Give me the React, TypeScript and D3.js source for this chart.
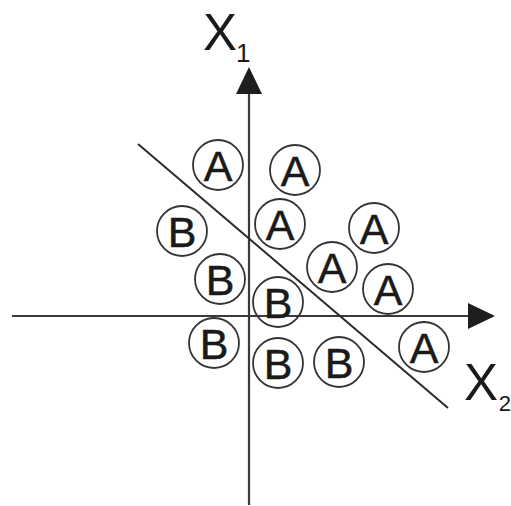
import React from "react";
import * as d3 from "d3";

// Data (abstract units, origin at the axis intersection)
const classALabels = ["A", "A", "A", "A", "A", "A", "A"];
const classAX2 = [-3.1, 4.6, 3.1, 12.5, 8.3, 13.9, 17.5];
const classAX1 = [15.1, 14.6, 9.2, 8.8, 4.9, 2.7, -3.1];
const classBLabels = ["B", "B", "B", "B", "B", "B"];
const classBX2 = [-6.7, -2.9, 2.9, -3.5, 2.9, 9.0];
const classBX1 = [8.5, 3.7, 1.4, -2.7, -4.7, -4.6];
const boundaryX2 = [-11.1, 19.9];
const boundaryX1 = [17.2, -9.2];
const axisX2Range = [-23.7, 24.6];
const axisX1Range = [-18.9, 24.9];
const axisLabels = [
  { main: "X", sub: "1" },
  { main: "X", sub: "2" },
];

const W = 511;
const H = 506;

export default function App() {
  const x = d3.scaleLinear().domain([-10, 10]).range([149, 349]);
  const y = d3.scaleLinear().domain([-10, 10]).range([416, 216]);

  const points = [
    ...classALabels.map((l, i) => ({ l, x2: classAX2[i], x1: classAX1[i] })),
    ...classBLabels.map((l, i) => ({ l, x2: classBX2[i], x1: classBX1[i] })),
  ];

  const line = d3
    .line<[number, number]>()
    .x((d) => x(d[0]))
    .y((d) => y(d[1]));

  const x0 = x(0);
  const y0 = y(0);
  const arrowLen = 27;
  const arrowHalf = 13;
  const r = 25;
  const ink = "#1a1a1a";
  const font = "'Liberation Sans', Arial, Helvetica, sans-serif";

  const vTip = y(axisX1Range[1]);
  const hTip = x(axisX2Range[1]);

  return (
    <div style={{ position: "fixed", left: 0, top: 0 }}>
      <svg width={W} height={H} style={{ display: "block", background: "#fff" }}>
        {/* horizontal axis */}
        <line
          x1={x(axisX2Range[0])}
          y1={y0}
          x2={hTip - arrowLen + 2}
          y2={y0}
          stroke="#3a3a3a"
          strokeWidth={2.2}
        />
        <path
          d={`M${hTip},${y0} L${hTip - arrowLen},${y0 - arrowHalf} L${hTip - arrowLen},${y0 + arrowHalf} Z`}
          fill="#1e1e1e"
        />
        {/* vertical axis */}
        <line
          x1={x0}
          y1={y(axisX1Range[0])}
          x2={x0}
          y2={vTip + arrowLen - 2}
          stroke="#3a3a3a"
          strokeWidth={2.2}
        />
        <path
          d={`M${x0},${vTip} L${x0 - arrowHalf},${vTip + arrowLen} L${x0 + arrowHalf},${vTip + arrowLen} Z`}
          fill="#1e1e1e"
        />
        {/* decision boundary */}
        <path
          d={line(boundaryX2.map((v, i) => [v, boundaryX1[i]]) as [number, number][]) || ""}
          stroke="#2a2a2a"
          strokeWidth={2}
          fill="none"
        />
        {/* points */}
        {points.map((p, i) => (
          <g key={i} transform={`translate(${x(p.x2)},${y(p.x1)})`}>
            <circle r={r} fill="none" stroke="#333" strokeWidth={1.8} />
            <text
              x={0}
              y={15.5}
              textAnchor="middle"
              fontFamily={font}
              fontSize={43}
              fill={ink}
              stroke={ink}
              strokeWidth={0.5}
            >
              {p.l}
            </text>
          </g>
        ))}
        {/* axis labels */}
        <text x={237} y={50} textAnchor="end" fontFamily={font} fontSize={51} fill={ink}>
          {axisLabels[0].main}
        </text>
        <text x={236} y={62} fontFamily={font} fontSize={26} fill={ink}>
          {axisLabels[0].sub}
        </text>
        <text x={464} y={400} fontFamily={font} fontSize={51} fill={ink}>
          {axisLabels[1].main}
        </text>
        <text x={511} y={411} textAnchor="end" fontFamily={font} fontSize={22} fill={ink}>
          {axisLabels[1].sub}
        </text>
      </svg>
    </div>
  );
}
